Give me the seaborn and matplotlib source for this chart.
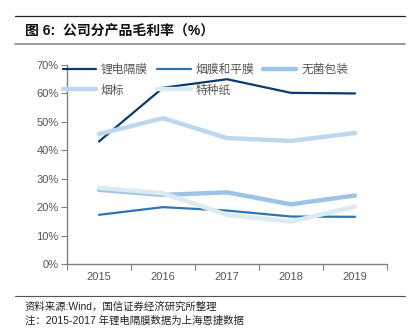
import numpy as np
import pandas as pd
import matplotlib
matplotlib.use("Agg")
import matplotlib.pyplot as plt
import seaborn as sns
from matplotlib.lines import Line2D

years = ["2015", "2016", "2017", "2018", "2019"]
lithium = [43.1, 62.0, 65.0, 60.2, 60.0]
cig_film = [17.3, 20.0, 18.8, 16.7, 16.6]
aseptic = [26.1, 24.3, 25.2, 21.0, 24.1]
cig_label = [45.7, 51.3, 44.3, 43.3, 46.1]
special_paper = [26.8, 24.9, 17.3, 14.9, 20.2]

series_names = ["锂电隔膜", "烟膜和平膜", "无菌包装", "烟标", "特种纸"]
series_values = [lithium, cig_film, aseptic, cig_label, special_paper]
colors = ["#0b3a6e", "#2e75b6", "#9dc3e6", "#bdd7ee", "#dcebef"]
widths = [1.6, 1.6, 3.2, 3.2, 3.2]
yticks = [0, 10, 20, 30, 40, 50, 60, 70]

sns.set_theme(style="white")
plt.rcParams["font.family"] = ["Liberation Sans", "Noto Sans CJK SC", "DejaVu Sans"]

rows = []
for name, vals in zip(series_names, series_values):
    for y, v in zip(years, vals):
        rows.append({"year": y, "value": v, "series": name})
df = pd.DataFrame(rows)

fig = plt.figure(figsize=(4.12, 3.33), dpi=100)
ax = fig.add_axes([67/412, 1-264/333, 320/412, 199/333])

for name, c, w in zip(series_names, colors, widths):
    sub = df[df["series"] == name]
    sns.lineplot(data=sub, x="year", y="value", ax=ax, color=c, linewidth=w,
                 legend=False, sort=False)

ax.set_xlim(-0.5, 4.5)
ax.set_ylim(0, 70)
ax.set_xlabel("")
ax.set_ylabel("")
ax.set_yticks(yticks)
ax.set_yticklabels([f"{t}%" for t in yticks], fontsize=8, color="#555555")
ax.set_xticks(range(len(years)))
ax.set_xticklabels(years, fontsize=8, color="#555555")
ax.set_xticks(np.arange(-0.5, len(years)), minor=True)
ax.tick_params(axis="x", which="major", length=0, pad=6)
ax.tick_params(axis="x", which="minor", length=4, width=0.8, color="#808080", bottom=True)
ax.tick_params(axis="y", length=4, width=0.8, color="#808080", left=True, pad=2)
for s in ["top", "right"]:
    ax.spines[s].set_visible(False)
for s in ["left", "bottom"]:
    ax.spines[s].set_color("#808080")
    ax.spines[s].set_linewidth(1.0)

handles = [Line2D([0], [0], color=c, lw=w) for c, w in zip(colors, widths)]
order = [0, 3, 1, 4, 2]
leg = ax.legend([handles[i] for i in order], [series_names[i] for i in order],
                ncol=3, loc="upper left", bbox_to_anchor=(-0.045, 1.06),
                frameon=False, fontsize=8.5, handlelength=2.8, columnspacing=0.8,
                handletextpad=0.4, labelspacing=0.75)
for t in leg.get_texts():
    t.set_color("#555555")

# Title and rules
fig.add_artist(Line2D([15/412, 405/412], [1-16/333, 1-16/333], color="#222222", lw=0.9))
fig.add_artist(Line2D([15/412, 405/412], [1-44/333, 1-44/333], color="#888888", lw=1.2))
fig.text(25/412, 1-31/333, "图 6:  公司分产品毛利率（%）", fontsize=10, fontweight="bold",
         va="center", ha="left", color="#111111")

fig.add_artist(Line2D([15/412, 405/412], [1-296/333, 1-296/333], color="#555555", lw=0.8))
fig.text(25/412, 1-307/333, "资料来源:Wind，国信证券经济研究所整理", fontsize=7.5,
         va="center", ha="left", color="#222222")
fig.text(25/412, 1-321/333, "注：2015-2017 年锂电隔膜数据为上海恩捷数据", fontsize=7.5,
         va="center", ha="left", color="#222222")

fig.savefig("out.png", dpi=100)
